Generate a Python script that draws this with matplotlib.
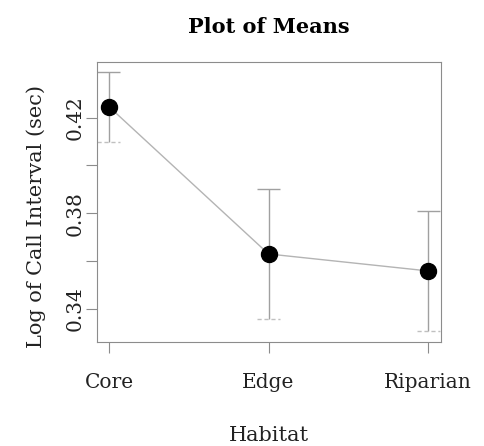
import matplotlib
matplotlib.use("Agg")
import matplotlib.pyplot as plt

# values
habitat = ["Core", "Edge", "Riparian"]
means = [0.4246, 0.3629, 0.3558]
upper = [0.4392, 0.3900, 0.3808]
lower = [0.4097, 0.3355, 0.3305]
yticks = [0.34, 0.36, 0.38, 0.40, 0.42]
ytick_labels = ["0.34", "", "0.38", "", "0.42"]

plt.rcParams['font.family'] = ['DejaVu Serif']

fig = plt.figure(figsize=(4.85, 4.46), dpi=100)
ax = fig.add_axes([0.2, 0.233, 0.709, 0.628])

x = list(range(1, len(habitat) + 1))
grey = "#a0a0a0"

ax.plot(x, means, color="#b4b4b4", lw=1, zorder=2)
ax.vlines(x, lower, upper, color=grey, lw=1, zorder=1)
ax.hlines(upper, [v - 0.072 for v in x], [v + 0.072 for v in x], color=grey, lw=1)
ax.hlines(lower, [v - 0.072 for v in x], [v + 0.072 for v in x], color="#c0c0c0",
          lw=1, linestyles=(0, (3, 2)))
ax.plot(x, means, "o", color="black", ms=11.5, zorder=3)

ax.set_xlim(0.925, 3.08)
ax.set_ylim(0.326, 0.4433)
ax.set_xticks(x)
ax.set_xticklabels(habitat, fontsize=14.5)
ax.set_yticks(yticks)
ax.set_yticklabels(ytick_labels, fontsize=14.5, rotation=90, va="center")
for s in ax.spines.values():
    s.set_color("#8c8c8c")
ax.tick_params(length=8, color="#8c8c8c", labelcolor="#222222")
ax.tick_params(axis="x", pad=14)
ax.tick_params(axis="y", pad=1)

ax.set_xlabel("Habitat", fontsize=15, labelpad=25, color="#222222")
ax.set_ylabel("Log of Call Interval (sec)", fontsize=15, color="#222222")
ax.yaxis.set_label_coords(-0.147, 0.45)
ax.set_title("Plot of Means", fontsize=15, fontweight="bold", pad=21)

fig.savefig("out.png", dpi=100)
